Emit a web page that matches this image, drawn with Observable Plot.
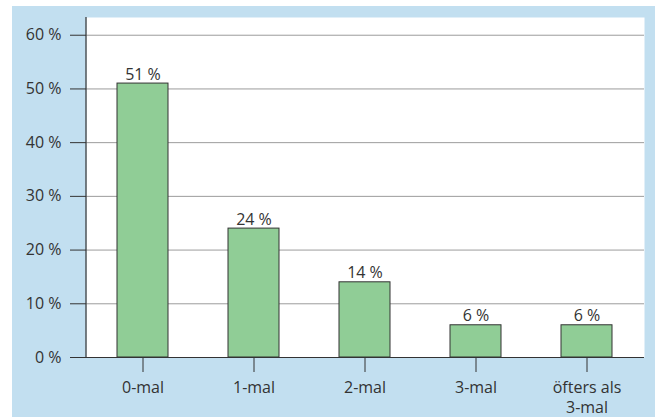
<!DOCTYPE html>
<html>
<head>
<meta charset="utf-8">
<script src="https://cdn.jsdelivr.net/npm/d3@7"></script>
<script src="https://cdn.jsdelivr.net/npm/@observablehq/plot@0.6"></script>
<style>
  html, body { margin: 0; padding: 0; background: #ffffff; }
  #panel {
    position: absolute; left: 12px; top: 6px;
    width: 643px; height: 411px;
    background: #c2dff0;
  }
</style>
</head>
<body>
<div id="panel"></div>
<script>
// How often: share of respondents per category
const categories = ["0-mal", "1-mal", "2-mal", "3-mal", "öfters als\n3-mal"];
const shares = [51, 24, 14, 6, 6];
const yTicks = [0, 10, 20, 30, 40, 50, 60];

const data = categories.map((category, i) => ({category, share: shares[i]}));
const pct = (d) => `${d} %`;
const ink = "#333333";

// left axis line spanning the full plot area
const leftAxisLine = (index, scales, values, dims) => {
  const x = dims.marginLeft;
  return d3.create("svg:line")
    .attr("x1", x).attr("x2", x)
    .attr("y1", dims.marginTop).attr("y2", dims.height - dims.marginBottom)
    .attr("stroke", ink).attr("stroke-width", 1.2)
    .node();
};

const chart = Plot.plot({
  width: 643,
  height: 411,
  marginLeft: 74,
  marginTop: 11,
  marginRight: 11,
  marginBottom: 60,
  style: {background: "transparent", fontFamily: "'Open Sans', sans-serif", fontSize: "16px", color: ink},
  x: {domain: categories, paddingInner: 0.54, paddingOuter: 0.27, label: null},
  y: {domain: [0, 63.3], label: null},
  marks: [
    Plot.frame({fill: "white", stroke: null}),
    Plot.gridY(yTicks.filter((d) => d > 0), {stroke: "#9c9c9c", strokeOpacity: 1}),
    Plot.axisY(yTicks, {tickFormat: pct, tickSize: 16, tickPadding: 9, stroke: ink, fill: ink, fontSize: 16, label: null}),
    Plot.axisX({tickSize: 15, tickPadding: 6, stroke: ink, fill: ink, fontSize: 16, lineHeight: 1.25, label: null}),
    Plot.barY(data, {x: "category", y: "share", fill: "#90cd96", stroke: ink, strokeWidth: 1}),
    Plot.text(data, {x: "category", y: "share", text: (d) => pct(d.share), lineAnchor: "bottom", dy: -4, fill: ink, fontSize: 16}),
    Plot.ruleY([0], {stroke: ink, strokeWidth: 1.2}),
    leftAxisLine
  ]
});

document.getElementById("panel").appendChild(chart);
</script>
</body>
</html>
